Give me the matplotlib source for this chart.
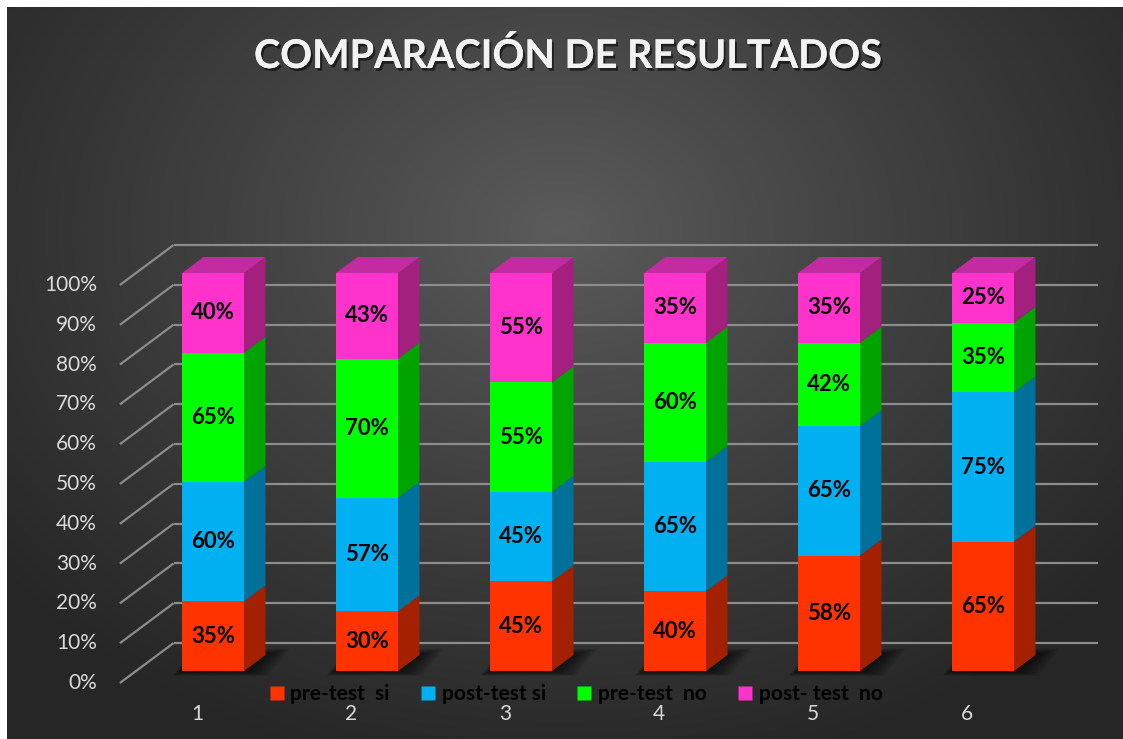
import numpy as np
import matplotlib
matplotlib.use('Agg')
import matplotlib.pyplot as plt
from matplotlib.patches import Polygon
from matplotlib.lines import Line2D
import matplotlib.patheffects as pe

# ---------------- data ----------------
categories = ['1', '2', '3', '4', '5', '6']
series_names = ['pre-test  si', 'post-test si', 'pre-test  no', 'post- test  no']
pre_test_si = [35, 30, 45, 40, 58, 65]
post_test_si = [60, 57, 45, 65, 65, 75]
pre_test_no = [65, 70, 55, 60, 42, 35]
post_test_no = [40, 43, 55, 35, 35, 25]
y_ticks = [0, 10, 20, 30, 40, 50, 60, 70, 80, 90, 100]
y_tick_labels = [f'{t}%' for t in y_ticks]
title = 'COMPARACIÓN DE RESULTADOS'

series = [pre_test_si, post_test_si, pre_test_no, post_test_no]
front_colors = ['#FF3300', '#00B0F0', '#00FF00', '#FF33CC']
side_colors = ['#A32100', '#00719B', '#00A300', '#A3207F']
top_colors = ['#C42900', '#0089BB', '#00C400', '#C42BA0']

FONT = 'Lato'
W, H, DPI = 1123, 739, 100
fig = plt.figure(figsize=(W / DPI, H / DPI), dpi=DPI, facecolor='white')

# ---------------- background ----------------
bx0, by0 = 7, 7
bg = fig.add_axes([bx0 / W, 0, 1 - bx0 / W, 1 - by0 / H], zorder=-5)
bg.axis('off')
yy, xx = np.mgrid[by0:H, bx0:W]
cx, cy, rx, ry = 560, 230, 720, 560
d = np.sqrt(((xx - cx) / rx) ** 2 + ((yy - cy) / ry) ** 2)
d = np.clip(d, 0, 1) ** 0.9
c0, c1 = 0x5c / 255, 0x26 / 255
g = c0 + (c1 - c0) * d
img = np.dstack([g, g, g])
bg.imshow(img, aspect='auto', interpolation='bilinear', extent=[0, 1, 0, 1])
bg.set_xlim(0, 1); bg.set_ylim(0, 1)

# ---------------- main axes (front plane: x category units, y percent) ----------------
ax = fig.add_axes([0, 0, 1, 1])
ax.set_facecolor('none')
px_per_cat = 154.0
px_per_pct = 3.98
x1_px = 213.0      # pixel x of category 1 center
y0_px = 671.0      # pixel y (from top) of 0% on the bar front plane
ax.set_xlim(1 - x1_px / px_per_cat, 1 + (W - x1_px) / px_per_cat)
ax.set_ylim(-(H - y0_px) / px_per_pct, (y0_px) / px_per_pct)
ax.axis('off')

Dx = 21.5 / px_per_cat   # bar depth offset (x)
Dy = 16.0 / px_per_pct   # bar depth offset (y)
bar_w = 62.0 / px_per_cat
xmin, xmax = 0.5, 6.5
back = 1.75
front = -0.75
label_x = 1 + (97 - x1_px) / px_per_cat

# back wall grid + left wall diagonals
grid_col = '#8c8c8c'
for t, lab in zip(y_ticks, y_tick_labels):
    ax.plot([xmin + back * Dx, xmax + back * Dx], [t + back * Dy, t + back * Dy],
            color=grid_col, lw=1.6, zorder=1, solid_capstyle='butt')
    ax.plot([xmin + front * Dx, xmin + back * Dx], [t + front * Dy, t + back * Dy],
            color=grid_col, lw=1.6, zorder=1, solid_capstyle='butt')
    ax.text(label_x, t + front * Dy, lab, ha='right', va='center', color='#d9d9d9',
            fontsize=15, family=FONT)

# category labels
for i, c in enumerate(categories):
    ax.text(i + 1 + front * Dx, -10.8, c, ha='center', va='center', color='#d9d9d9',
            fontsize=15, family=FONT)

# stacked 100% bars
vals = np.array(series, dtype=float)
totals = vals.sum(axis=0)
pct = vals / totals * 100
sx = 1 / px_per_cat
sy = 1 / px_per_pct
for i in range(len(categories)):
    xc = i + 1
    xl, xr = xc - bar_w / 2, xc + bar_w / 2
    # soft floor shadow
    for k in range(8):
        m = 8 - k
        shadow = Polygon([(xl - m * 1.2 * sx, -m * 0.6 * sy), (xr + m * 3.0 * sx, -m * 0.6 * sy),
                          (xr + Dx + m * 3.0 * sx, Dy + m * 0.8 * sy), (xl + Dx - m * 1.2 * sx, Dy + m * 0.8 * sy)],
                         closed=True, facecolor='black', edgecolor='none', alpha=0.1, zorder=2)
        ax.add_patch(shadow)
    bottom = 0.0
    for s in range(len(series)):
        h = pct[s, i]
        top = bottom + h
        ax.add_patch(Polygon([(xl, bottom), (xr, bottom), (xr, top), (xl, top)], closed=True,
                             facecolor=front_colors[s], edgecolor='none', zorder=5))
        ax.add_patch(Polygon([(xr, bottom), (xr + Dx, bottom + Dy), (xr + Dx, top + Dy), (xr, top)],
                             closed=True, facecolor=side_colors[s], edgecolor='none', zorder=5))
        if s == len(series) - 1:
            ax.add_patch(Polygon([(xl, top), (xr, top), (xr + Dx, top + Dy), (xl + Dx, top + Dy)],
                                 closed=True, facecolor=top_colors[s], edgecolor='none', zorder=5))
        ax.text(xc, bottom + h / 2, f'{series[s][i]}%', ha='center', va='center',
                color='black', fontsize=16, fontweight='bold', family=FONT, zorder=6)
        bottom = top

# legend
handles = [Line2D([0], [0], marker='s', linestyle='none', markersize=9.5,
                  markerfacecolor=front_colors[s], markeredgecolor='none')
           for s in range(len(series))]
leg = fig.legend(handles, series_names, loc='center', bbox_to_anchor=(576 / W, 1 - 694 / H),
                 ncol=4, frameon=False, handlelength=0.7, handletextpad=0.3, columnspacing=1.5,
                 borderpad=0, prop={'family': FONT, 'weight': 'bold', 'size': 15})
for txt in leg.get_texts():
    txt.set_color('black')

# title
fig.text(569 / W, 1 - 56 / H, title, ha='center', va='center', color='#f2f2f2',
         fontsize=28.5, fontweight='bold', family=FONT,
         path_effects=[pe.withSimplePatchShadow(offset=(1.5, -2), shadow_rgbFace='black', alpha=0.55),
                       pe.Normal()])

fig.savefig('out.png', dpi=DPI, facecolor=fig.get_facecolor())
